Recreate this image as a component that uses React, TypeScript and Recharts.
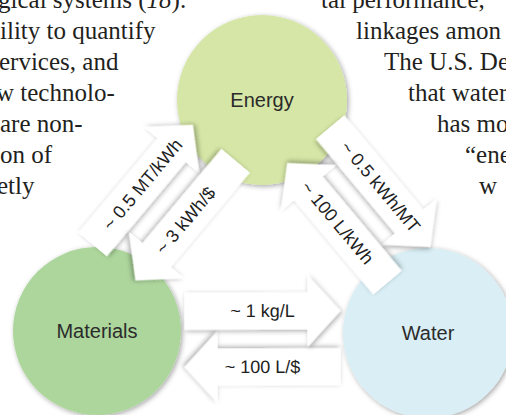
import React from "react";
import { ScatterChart, Scatter, XAxis, YAxis } from "recharts";

const W = 506;
const H = 415;

// nodes of the diagram (x, y in chart units, y grows downwards)
const nodeNames = ["Energy", "Materials", "Water"];
const nodeX = [262, 97, 428];
const nodeY = [100, 331, 333];
const nodeR = [85, 84, 85];
const nodeColors = ["#d5e6a6", "#add69c", "#d9eef5"];

// directed links between nodes
const linkFrom = ["Materials", "Energy", "Energy", "Water", "Water", "Materials"];
const linkTo = ["Energy", "Materials", "Water", "Energy", "Materials", "Water"];
const linkLabels = ["~ 0.5 MT/kWh", "~ 3 kWh/$", "~ 0.5 kWh/MT", "~ 100 L/kWh", "~ 100 L/$", "~ 1 kg/L"];

// body text of the page the figure sits in
const leftLines = ["gical systems (", "ility to quantify", "ervices, and", "w technolo-", "are non-", "on of", "etly"];
const rightLines = ["tal performance,", "linkages amon", "The U.S. De", "that water", "has mo", "\u201Cene", "w"];

// layout
const leftLineX = [-2, 0, -1, -4, 0, 0, -3];
const rightLineX = [321, 356, 384, 408, 437, 465, 479];
const LINE_Y0 = 8;
const LINE_H = 31;
const pairLayout: Record<string, { shift: number; tilt: number }> = {
  "Energy|Materials": { shift: 20, tilt: 4.4 },
  "Energy|Water": { shift: 18, tilt: -4.5 },
  "Materials|Water": { shift: 7, tilt: -0.5 },
};
const ARROW_LEN = 156;
const HEAD_LEN = 33;
const BODY_HALF = 18.5;
const HEAD_HALF = 36;
const LANE = 28;

const nodes = nodeNames.map((name, i) => ({
  name,
  x: nodeX[i],
  y: nodeY[i],
  r: nodeR[i],
  color: nodeColors[i],
}));

const byName = (n: string) => nodes[nodeNames.indexOf(n)];
const centroid = {
  x: nodeX.reduce((s, v) => s + v, 0) / nodeX.length,
  y: nodeY.reduce((s, v) => s + v, 0) / nodeY.length,
};

const arrows = linkFrom.map((from, i) => {
  const a = byName(from);
  const b = byName(linkTo[i]);
  const key = [from, linkTo[i]].sort().join("|");
  const { shift, tilt } = pairLayout[key];
  const deg = (Math.atan2(b.y - a.y, b.x - a.x) * 180) / Math.PI + tilt;
  const rad = (deg * Math.PI) / 180;
  const dx = Math.cos(rad);
  const dy = Math.sin(rad);
  const mx = (a.x + b.x) / 2;
  const my = (a.y + b.y) / 2;
  // normal pointing away from the middle of the triangle
  let nx = -dy;
  let ny = dx;
  if (nx * (mx - centroid.x) + ny * (my - centroid.y) < 0) {
    nx = -nx;
    ny = -ny;
  }
  // each arrow keeps to its own left-hand lane
  const lx = dy;
  const ly = -dx;
  let textDeg = deg;
  if (textDeg > 90) textDeg -= 180;
  if (textDeg <= -90) textDeg += 180;
  return {
    x: mx + nx * shift + lx * LANE,
    y: my + ny * shift + ly * LANE,
    angle: deg,
    textAngle: textDeg,
    label: linkLabels[i],
  };
});

const arrowPoints = (() => {
  const t = ARROW_LEN / 2;
  const hb = t - HEAD_LEN;
  return [
    [-t, -BODY_HALF],
    [hb, -BODY_HALF],
    [hb, -HEAD_HALF],
    [t, 0],
    [hb, HEAD_HALF],
    [hb, BODY_HALF],
    [-t, BODY_HALF],
  ]
    .map((p) => p.join(","))
    .join(" ");
})();

const sans = "'Liberation Sans', Arial, Helvetica, sans-serif";

function NodeShape(props: any) {
  const { cx, cy, payload } = props;
  return (
    <g>
      <circle cx={cx} cy={cy} r={payload.r} fill={payload.color} filter="url(#soft)" />
      <text
        x={cx}
        y={cy}
        textAnchor="middle"
        dominantBaseline="central"
        fontFamily={sans}
        fontSize={20}
        fill="#2b2b2b"
      >
        {payload.name}
      </text>
    </g>
  );
}

function ArrowShape(props: any) {
  const { cx, cy, payload } = props;
  return (
    <g>
      <polygon
        points={arrowPoints}
        transform={`translate(${cx},${cy}) rotate(${payload.angle})`}
        fill="#ffffff"
        filter="url(#soft)"
      />
      <text
        x={cx}
        y={cy}
        transform={`rotate(${payload.textAngle},${cx},${cy})`}
        textAnchor="middle"
        dominantBaseline="central"
        fontFamily={sans}
        fontSize={18}
        fill="#1e1e1e"
      >
        {payload.label}
      </text>
    </g>
  );
}

export default function App() {
  return (
    <div style={{ position: "absolute", left: 0, top: 0, width: W, height: H, background: "#fff" }}>
      <svg width={W} height={H} style={{ position: "absolute", left: 0, top: 0 }}>
        <defs>
          <filter id="soft" x="-20%" y="-20%" width="140%" height="140%">
            <feDropShadow dx="1.5" dy="1.5" stdDeviation="2.5" floodColor="#000" floodOpacity="0.35" />
          </filter>
        </defs>
        <g fontFamily="'Liberation Serif', 'Times New Roman', serif" fontSize={25} fill="#231f20">
          {leftLines.map((t, i) => (
            <text key={`l${i}`} x={leftLineX[i]} y={LINE_Y0 + i * LINE_H}>
              {t}
              {i === 0 && (
                <>
                  <tspan fontStyle="italic">18</tspan>).
                </>
              )}
            </text>
          ))}
          {rightLines.map((t, i) => (
            <text key={`r${i}`} x={rightLineX[i]} y={LINE_Y0 + i * LINE_H}>
              {t}
            </text>
          ))}
        </g>
      </svg>
      <div style={{ position: "absolute", left: 0, top: 0 }}>
        <ScatterChart width={W} height={H} margin={{ top: 0, right: 0, bottom: 0, left: 0 }}>
          <XAxis type="number" dataKey="x" domain={[0, W]} hide />
          <YAxis type="number" dataKey="y" domain={[0, H]} reversed hide />
          <Scatter data={nodes} shape={NodeShape} isAnimationActive={false} />
          <Scatter data={arrows} shape={ArrowShape} isAnimationActive={false} />
        </ScatterChart>
      </div>
    </div>
  );
}
